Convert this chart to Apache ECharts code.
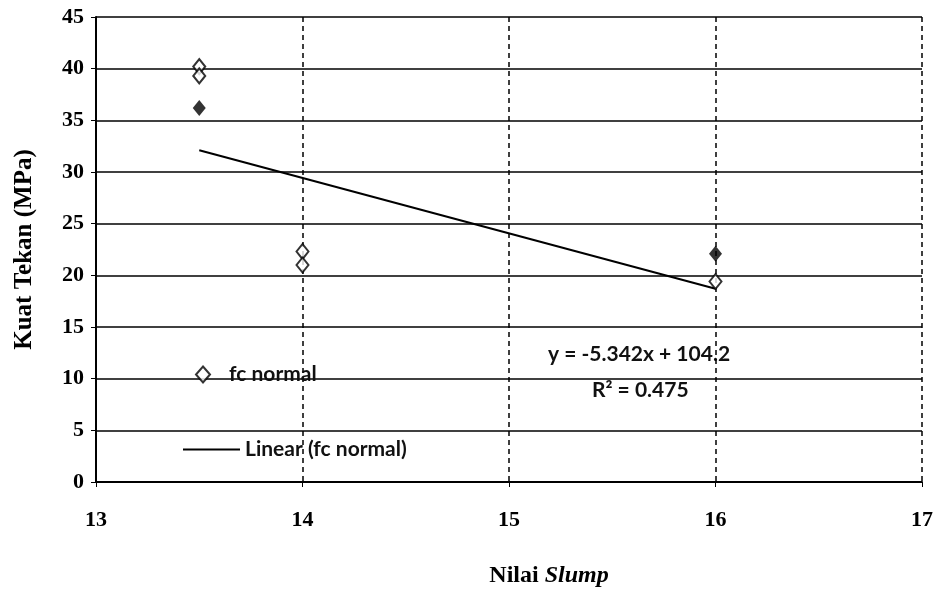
<!DOCTYPE html>
<html>
<head>
<meta charset="utf-8">
<style>
  html, body { margin: 0; padding: 0; background: #fff; }
  #chart { width: 937px; height: 590px; }
</style>
<script src="https://cdn.jsdelivr.net/npm/echarts@6/dist/echarts.min.js"></script>
</head>
<body>
<div id="chart"></div>
<script>
  // data
  const xTicks = [13, 14, 15, 16, 17]
  const yTicks = [0, 5, 10, 15, 20, 25, 30, 35, 40, 45]
  const slumpOpen = [13.5, 13.5, 14, 14, 16]
  const kuatOpen = [40.2, 39.3, 22.3, 21.0, 19.4]
  const slumpSolid = [13.5, 16]
  const kuatSolid = [36.2, 22.1]
  const trendX = [13.5, 16]
  const trendY = [32.1, 18.7]
  const eqText = 'y = -5.342x + 104.2'
  const r2Text = 'R² = 0.475'

  const zip = (a, b) => a.map((v, i) => [v, b[i]])
  const serif = '"Liberation Serif", "DejaVu Serif", serif'
  const sans = 'Lato, "Open Sans", sans-serif'
  const legendText = { fontFamily: sans, fontSize: 21, fontWeight: 'bold', color: '#111' }

  const chart = echarts.init(document.getElementById('chart'))
  chart.setOption({
    backgroundColor: '#fff',
    animation: false,
    grid: { left: 96, right: 15, top: 17, bottom: 108, outerBoundsMode: 'none' },
    legend: [{
      data: ['fc normal'],
      left: 190,
      top: 359,
      itemWidth: 14,
      itemHeight: 16,
      itemGap: 10,
      textStyle: Object.assign({ padding: [0, 0, 0, 14] }, legendText)
    }, {
      data: [{ name: 'Linear (fc normal)', icon: 'rect' }],
      left: 178,
      top: 434,
      itemWidth: 57,
      itemHeight: 2,
      itemGap: 2,
      textStyle: legendText
    }],
    xAxis: {
      type: 'value',
      min: xTicks[0],
      max: xTicks[xTicks.length - 1],
      interval: 1,
      name: '{a|Nilai }{b|Slump}',
      nameLocation: 'middle',
      nameGap: 82,
      nameTextStyle: {
        padding: [0, 0, 0, 80],
        rich: {
          a: { fontFamily: serif, fontWeight: 'bold', fontSize: 24, color: '#000' },
          b: { fontFamily: serif, fontWeight: 'bold', fontStyle: 'italic', fontSize: 24, color: '#000' }
        }
      },
      axisLine: { show: true, lineStyle: { color: '#000', width: 2 } },
      axisTick: { show: true, length: 5, lineStyle: { color: '#000' } },
      axisLabel: { fontFamily: serif, fontWeight: 'bold', fontSize: 22, color: '#000', margin: 27 },
      splitLine: { show: true, lineStyle: { color: '#000', type: [5, 4], width: 1.5 } }
    },
    yAxis: {
      type: 'value',
      min: yTicks[0],
      max: yTicks[yTicks.length - 1],
      interval: 5,
      name: 'Kuat Tekan (MPa)',
      nameLocation: 'middle',
      nameGap: 59,
      nameTextStyle: { fontFamily: serif, fontWeight: 'bold', fontSize: 25, color: '#000' },
      axisLine: { show: true, lineStyle: { color: '#000', width: 2 } },
      axisTick: { show: true, length: 5, lineStyle: { color: '#000' } },
      axisLabel: { fontFamily: serif, fontWeight: 'bold', fontSize: 22, color: '#000', margin: 12 },
      splitLine: { show: true, lineStyle: { color: '#000', width: 1.5 } }
    },
    graphic: [{
      type: 'text',
      left: 548,
      top: 344,
      style: { text: eqText, fontFamily: sans, fontSize: 21, fontWeight: 'bold', fill: '#111' }
    }, {
      type: 'text',
      left: 592,
      top: 380,
      style: { text: r2Text, fontFamily: sans, fontSize: 21, fontWeight: 'bold', fill: '#111' }
    }],
    series: [{
      name: 'Linear (fc normal)',
      type: 'line',
      data: zip(trendX, trendY),
      symbol: 'none',
      lineStyle: { color: '#000', width: 2 },
      itemStyle: { color: '#000' },
      z: 3
    }, {
      name: 'fc normal',
      type: 'scatter',
      data: zip(slumpOpen, kuatOpen),
      symbol: 'diamond',
      symbolSize: [12, 15],
      itemStyle: { color: '#fff', borderColor: '#000', borderWidth: 2 },
      z: 4
    }, {
      name: 'fc normal solid',
      type: 'scatter',
      data: zip(slumpSolid, kuatSolid),
      symbol: 'diamond',
      symbolSize: [13, 16],
      itemStyle: { color: '#000' },
      z: 4
    }]
  })
</script>
</body>
</html>
